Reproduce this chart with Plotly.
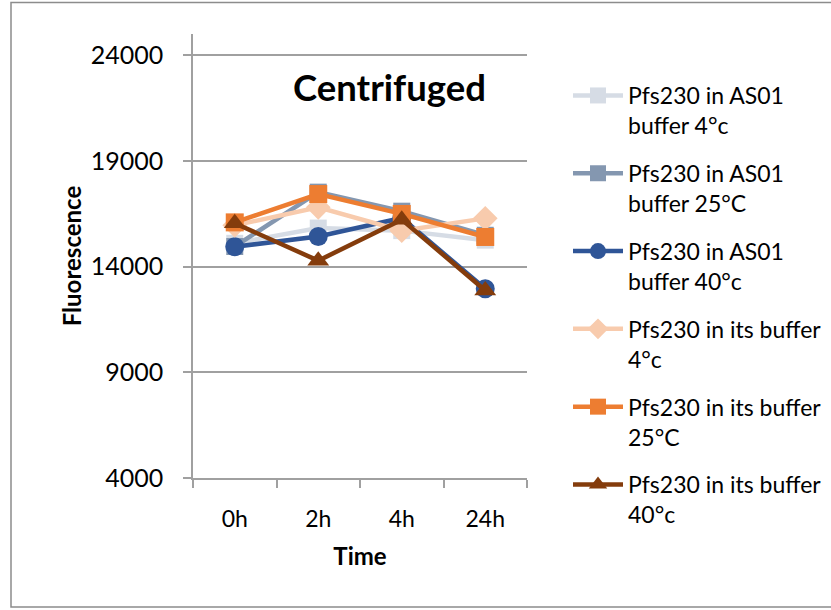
import plotly.graph_objects as go

# Fluorescence readings over time for centrifuged Pfs230 samples
times = ["0h", "2h", "4h", "24h"]

as01_4c = [15100, 15820, 15700, 15250]
as01_25c = [14950, 17520, 16620, 15480]
as01_40c = [14940, 15420, 16300, 12950]
own_4c = [15950, 16800, 15700, 16280]
own_25c = [16090, 17430, 16490, 15400]
own_40c = [16050, 14280, 16220, 12870]

series_names = [
    "Pfs230 in AS01<br>buffer 4°c",
    "Pfs230 in AS01<br>buffer 25°C",
    "Pfs230 in AS01<br>buffer 40°c",
    "Pfs230 in its buffer<br>4°c",
    "Pfs230 in its buffer<br>25°C",
    "Pfs230 in its buffer<br>40°c",
]
series_values = [as01_4c, as01_25c, as01_40c, own_4c, own_25c, own_40c]
series_colors = ["#D6DCE5", "#8497B0", "#2F5597", "#F8CBAD", "#ED7D31", "#843C0C"]
series_symbols = ["square", "square", "circle", "diamond", "square", "triangle-up"]
marker_sizes = [17, 17, 19, 19, 18, 19]

y_ticks = [4000, 9000, 14000, 19000, 24000]

FONT = "Lato, 'Open Sans', sans-serif"
GRID = "#A0A0A0"

fig = go.Figure()
for i, (name, vals, col, sym, ms) in enumerate(
    zip(series_names, series_values, series_colors, series_symbols, marker_sizes)
):
    fig.add_trace(
        go.Scatter(
            x=times,
            y=vals,
            name=name,
            mode="lines+markers",
            line=dict(color=col, width=4.5),
            marker=dict(symbol=sym, size=ms, color=col),
            legendgroup=f"g{i}",
        )
    )

# plot area geometry (pixels)
L, R, T, B = 193, 304, 34, 132
W, H = 831, 610
pw, ph = W - L - R, H - T - B

fig.update_layout(
    width=W,
    height=H,
    margin=dict(l=L, r=R, t=T, b=B, autoexpand=False),
    paper_bgcolor="white",
    plot_bgcolor="white",
    font=dict(family=FONT, color="#000000", size=23),
    showlegend=True,
    legend=dict(
        x=(568 - L) / pw,
        y=(H - B - 74) / ph,
        xanchor="left",
        yanchor="top",
        font=dict(size=23, family=FONT),
        traceorder="grouped",
        tracegroupgap=15,
        valign="top",
        itemwidth=50,
        maxheight=600,
        bgcolor="rgba(0,0,0,0)",
    ),
    annotations=[
        dict(
            text="<b>Centrifuged</b>",
            x=(389 - L) / pw,
            y=(H - B - 87) / ph,
            xref="paper",
            yref="paper",
            xanchor="center",
            yanchor="middle",
            showarrow=False,
            font=dict(size=36.5, family=FONT, color="#000000"),
        )
    ],
    shapes=[
        dict(
            type="rect",
            xref="paper",
            yref="paper",
            x0=(11 - L) / pw,
            x1=(W + 10 - L) / pw,
            y0=(H - B - 607) / ph,
            y1=(H - B - 2.5) / ph,
            line=dict(color="#8C8C8C", width=1.5),
            layer="below",
        )
    ],
)

fig.update_xaxes(
    type="category",
    categoryorder="array",
    categoryarray=times,
    range=[-0.5, 3.5],
    showline=True,
    linecolor=GRID,
    linewidth=1.5,
    ticks="outside",
    tickson="boundaries",
    ticklen=8,
    tickcolor=GRID,
    tickwidth=1.5,
    showgrid=False,
    ticklabelstandoff=20,
    tickfont=dict(size=23),
    title=dict(text="<b>Time</b>", font=dict(size=24), standoff=17),
    zeroline=False,
    fixedrange=True,
)

fig.update_yaxes(
    range=[4000, 25000],
    tickvals=y_ticks,
    ticktext=[str(v) for v in y_ticks],
    showline=True,
    linecolor=GRID,
    linewidth=1.5,
    ticks="outside",
    ticklen=8,
    tickcolor=GRID,
    tickwidth=1.5,
    showgrid=True,
    gridcolor=GRID,
    gridwidth=1.5,
    ticklabelstandoff=15,
    tickfont=dict(size=25),
    title=dict(text="<b>Fluorescence</b>", font=dict(size=24), standoff=2),
    zeroline=False,
    fixedrange=True,
)

fig.write_html("out.html")
